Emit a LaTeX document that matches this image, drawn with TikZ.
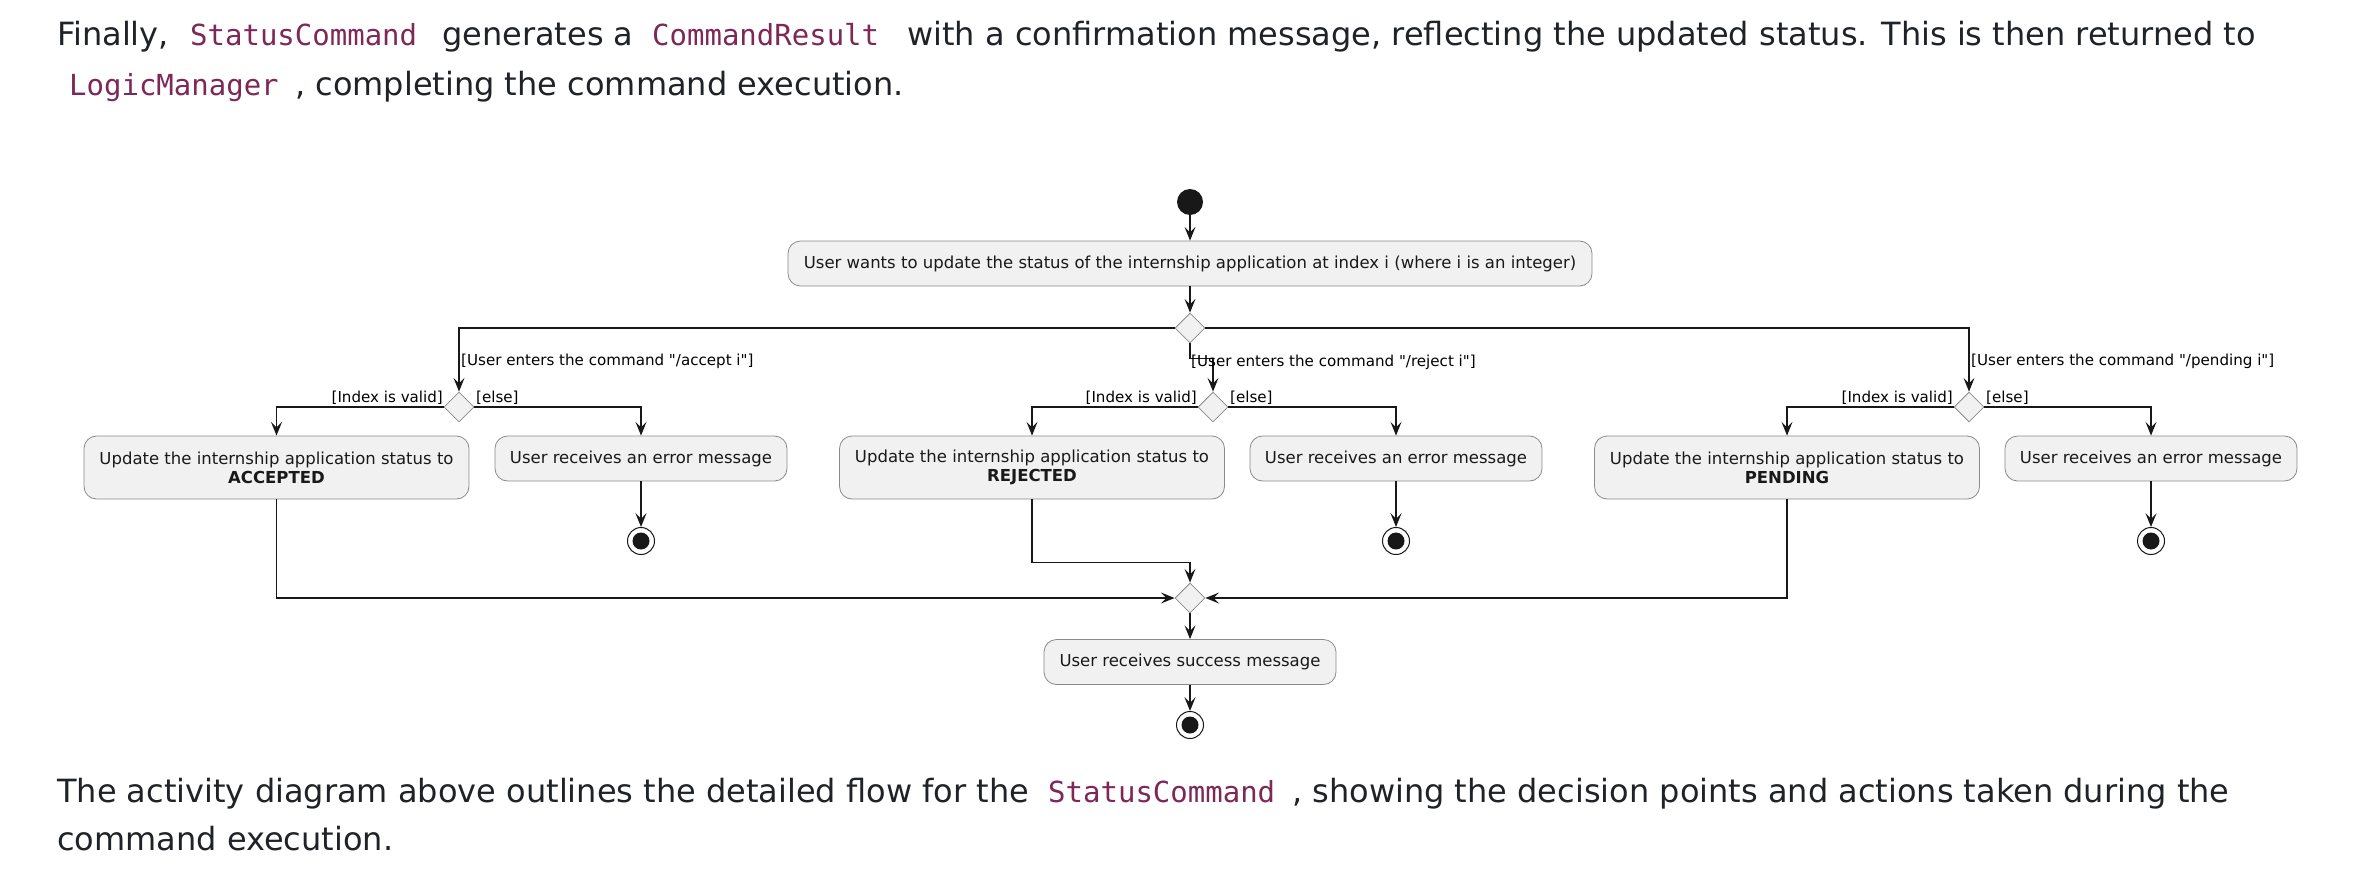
\documentclass[tikz,border=0pt]{standalone}
\usepackage{fontspec}
\setmainfont{DejaVu Sans}
\newfontfamily\monofont{DejaVu Sans Mono}
\newfontfamily\umlfont{DejaVu Sans}
\usetikzlibrary{arrows.meta,shapes.geometric}
\definecolor{txt}{HTML}{1F2328}
\definecolor{codecol}{HTML}{7D2857}
\definecolor{boxfill}{HTML}{F1F1F1}
\definecolor{boxline}{HTML}{8A8A8A}
\definecolor{arr}{HTML}{181818}
\tikzset{
 para/.style={anchor=base west, inner sep=0pt, text=txt, font=\fontsize{32}{38}\selectfont},
 codetxt/.style={anchor=base west, inner sep=0pt, text=codecol, font=\monofont\fontsize{29}{35}\selectfont},
 act/.style={draw=boxline, line width=0.8pt, fill=boxfill, rounded corners=12.5pt, inner xsep=12pt, inner ysep=0pt, font=\umlfont\fontsize{16.5}{19.3}\selectfont, text=black!90, align=center, minimum height=45pt},
 acttwo/.style={act, minimum height=63pt},
 dec/.style={draw=boxline, line width=0.8pt, fill=boxfill, diamond, inner sep=0pt, minimum width=30pt, minimum height=30pt},
 startnode/.style={circle, fill=arr, inner sep=0pt, minimum size=26pt},
 endnode/.style={circle, draw=arr, line width=1pt, fill=white, inner sep=0pt, minimum size=27pt, path picture={\fill[arr] (path picture bounding box.center) circle (8.5pt);}},
 flow/.style={draw=arr, line width=1.4pt, -{Stealth[length=13.75pt, width=11pt, inset=5.5pt]}},
 lbl/.style={inner sep=0pt, font=\umlfont\fontsize{15.1}{18}\selectfont, text=black},
}
\begin{document}
\begin{tikzpicture}[x=1pt,y=-1pt]
\fill[white] (0,0) rectangle (2368,875);
\useasboundingbox (0,0) rectangle (2368,875);
% paragraph above
\node[para] (p1a) at (57,46) {Finally,};
\node[codetxt] (p1b) at (190,46) {StatusCommand};
\node[para] (p1c) at (442,46) {generates a};
\node[codetxt] (p1d) at (652,46) {CommandResult};
\node[para] (p1e) at (907,46) {with a confirmation message, reflecting the updated status. This is then returned to};
\node[codetxt] (p2a) at (69,95) {LogicManager};
\node[para] (p2b) at (295,95) {, completing the command execution.};
% paragraph below
\node[para] (p3a) at (57,802) {The activity diagram above outlines the detailed flow for the};
\node[codetxt] (p3b) at (1048,802) {StatusCommand};
\node[para] (p3c) at (1292,802) {, showing the decision points and actions taken during the};
\node[para] (p4) at (57,850) {command execution.};
% diagram nodes
\node[startnode] (start) at (1190,202) {};
\node[act, minimum width=804pt] (upd) at (1190,263.5) {User wants to update the status of the internship application at index i (where i is an integer)};
\node[dec] (d1) at (1190,328) {};
\node[dec] (dA) at (459,407) {};
\node[dec] (dR) at (1213,407) {};
\node[dec] (dP) at (1969,407) {};
\node[acttwo, minimum width=385pt] (acc) at (276.5,467.5) {Update the internship application status to\\\textbf{ACCEPTED}};
\node[act, minimum width=292pt] (errA) at (641,458.5) {User receives an error message};
\node[endnode] (endA) at (641,541) {};
\node[acttwo, minimum width=385pt] (rej) at (1032,467.5) {Update the internship application status to\\\textbf{REJECTED}};
\node[act, minimum width=292pt] (errR) at (1396,458.5) {User receives an error message};
\node[endnode] (endR) at (1396,541) {};
\node[acttwo, minimum width=385pt] (pen) at (1787,467.5) {Update the internship application status to\\\textbf{PENDING}};
\node[act, minimum width=292pt] (errP) at (2151,458.5) {User receives an error message};
\node[endnode] (endP) at (2151,541) {};
\node[dec] (dm) at (1190,598) {};
\node[act, minimum width=292pt] (succ) at (1190,662) {User receives success message};
\node[endnode] (fin) at (1190,725) {};
% connectors
\draw[flow] (start) -- (upd);
\draw[flow] (upd) -- (d1);
\draw[flow] (d1.west) -| (dA.north);
\draw[flow] (d1.south) -- ++(0,15) -| (dR.north);
\draw[flow] (d1.east) -| (dP.north);
\draw[flow] (dA.west) -| (acc.north);
\draw[flow] (dA.east) -| (errA.north);
\draw[flow] (dR.west) -| (rej.north);
\draw[flow] (dR.east) -| (errR.north);
\draw[flow] (dP.west) -| (pen.north);
\draw[flow] (dP.east) -| (errP.north);
\draw[flow] (errA) -- (endA);
\draw[flow] (errR) -- (endR);
\draw[flow] (errP) -- (endP);
\draw[flow] (acc.south) |- (dm.west);
\draw[flow] (rej.south) -- ++(0,63) -| (dm.north);
\draw[flow] (pen.south) |- (dm.east);
\draw[flow] (dm) -- (succ);
\draw[flow] (succ) -- (fin);
% labels
\node[lbl, anchor=base west] (lA) at (461,365) {[User enters the command "/accept i"]};
\node[lbl, anchor=base west] (lR) at (1191,366) {[User enters the command "/reject i"]};
\node[lbl, anchor=base west] (lP) at (1971,365) {[User enters the command "/pending i"]};
\node[lbl, anchor=base east] (vA) at (443,402) {[Index is valid]};
\node[lbl, anchor=base west] (eA) at (476,402) {[else]};
\node[lbl, anchor=base east] (vR) at (1197,402) {[Index is valid]};
\node[lbl, anchor=base west] (eR) at (1230,402) {[else]};
\node[lbl, anchor=base east] (vP) at (1953,402) {[Index is valid]};
\node[lbl, anchor=base west] (eP) at (1986,402) {[else]};
\end{tikzpicture}
\end{document}
